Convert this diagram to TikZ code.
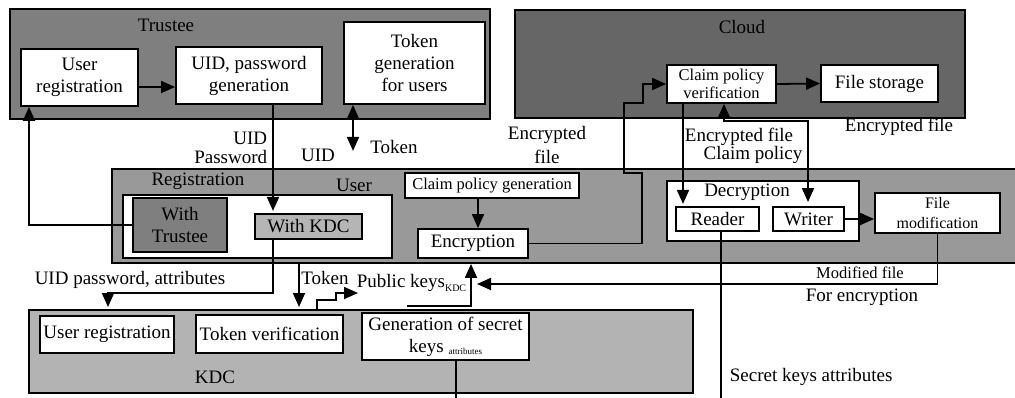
\documentclass[tikz,border=0pt]{standalone}
\usepackage{fontspec}
\setmainfont{Liberation Serif}
\usetikzlibrary{arrows.meta}

\definecolor{trusteegray}{HTML}{7F7F7F}
\definecolor{cloudgray}{HTML}{666666}
\definecolor{usergray}{HTML}{999999}
\definecolor{kdcgray}{HTML}{B3B3B3}
\definecolor{withkdcgray}{HTML}{B5B5B5}

\newcommand\fsmain{\fontsize{19}{22}\selectfont}
\newcommand\fssmall{\fontsize{16.5}{18}\selectfont}

\begin{document}
\begin{tikzpicture}[x=1pt,y=-1pt,line width=1.8pt,
  box/.style={draw, fill=white, inner sep=0pt, align=center, font=\fsmain},
  smallbox/.style={box, font=\fssmall},
  group/.style={draw, inner sep=0pt},
  lbl/.style={inner sep=0pt, font=\fsmain, align=center},
  smalllbl/.style={lbl, font=\fssmall},
  arr/.style={-{Triangle[length=14pt,width=12pt]}},
  dbl/.style={{Triangle[length=14pt,width=12pt]}-{Triangle[length=14pt,width=12pt]}}]

\useasboundingbox (0,0) rectangle (1015,397);

% containers
\node[group, fill=trusteegray, minimum width=480, minimum height=110] (trustee) at (250,64) {};
\node[group, fill=cloudgray, minimum width=450, minimum height=108] (cloud) at (740,64) {};
\node[group, fill=usergray, minimum width=908, minimum height=94] (user) at (566,216) {};
\node[group, fill=kdcgray, minimum width=664, minimum height=83] (kdc) at (361,351.5) {};
\node[group, fill=white, minimum width=269, minimum height=63] (reg) at (257.5,226.5) {};
\node[group, fill=white, minimum width=192, minimum height=60] (dec) at (763,211) {};

% container titles
\node[lbl] (trusteeT) at (166,25) {Trustee};
\node[lbl] (cloudT) at (742,27) {Cloud};
\node[lbl] (regT) at (198,181) {Registration};
\node[lbl] (userT) at (354,185) {User};
\node[lbl] (decT) at (747,192) {Decryption};
\node[lbl] (kdcT) at (215,377) {KDC};

% Trustee
\node[box, minimum width=117, minimum height=57] (tureg) at (79.5,77.5) {User\\registration};
\node[box, minimum width=146, minimum height=57] (tuid) at (249,75.5) {UID, password\\generation};
\node[box, minimum width=141, minimum height=82] (ttok) at (414.5,63) {Token\\generation\\for users};

% Cloud
\node[smallbox, minimum width=109, minimum height=38] (cpv) at (721.5,84) {Claim policy\\verification};
\node[box, minimum width=117, minimum height=37] (fs) at (879.5,83.5) {File storage};

% User
\node[box, fill=trusteegray, minimum width=94, minimum height=54] (wtr) at (180,225) {With\\Trustee};
\node[box, fill=withkdcgray, minimum width=107, minimum height=25] (wkdc) at (308.5,226.5) {With KDC};
\node[smallbox, minimum width=174, minimum height=25] (cpg) at (492,185.5) {Claim policy generation};
\node[box, minimum width=110, minimum height=29] (enc) at (473,243.5) {Encryption};
\node[box, minimum width=83, minimum height=24] (reader) at (717.5,219) {Reader};
\node[box, minimum width=71, minimum height=24] (writer) at (808.5,219) {Writer};
\node[box, font=\fontsize{16}{20}\selectfont, minimum width=125, minimum height=40] (fm) at (937.5,213) {File\\modification};

% KDC
\node[box, minimum width=134, minimum height=37] (kureg) at (107,334.5) {User registration};
\node[box, minimum width=147, minimum height=38] (ktok) at (269.5,334) {Token verification};
\node[box, minimum width=167, minimum height=47] (kgen) at (445.5,336.5)
  {Generation of secret\\keys {\fontsize{9}{9}\selectfont\raisebox{-2pt}{attributes}}};

% edge labels
\node[lbl, anchor=east] (lUID1) at (268,138) {UID};
\node[lbl, anchor=east] (lPwd) at (268,157) {Password};
\node[lbl] (lUID2) at (318,155) {UID};
\node[lbl] (lTok1) at (394,147) {Token};
\node[lbl] (lEnc1) at (547,135) {Encrypted};
\node[lbl] (lEnc2) at (547,157) {file};
\node[lbl] (lEncF) at (739,137) {Encrypted file};
\node[lbl] (lClaim) at (753,155) {Claim policy};
\node[lbl] (lEncR) at (899,127) {Encrypted file};
\node[lbl] (lUPA) at (130,280) {UID password, attributes};
\node[lbl] (lTok2) at (325,278) {Token};
\node[lbl, anchor=west] (lPK) at (356,283) {Public keys\raisebox{-4pt}{\fontsize{10}{10}\selectfont KDC}};
\node[smalllbl] (lMod) at (860,273) {Modified file};
\node[lbl] (lForEnc) at (862,297) {For encryption};
\node[lbl, anchor=west] (lSKA) at (729,377) {Secret keys attributes};

% free ends
\coordinate (pkTip) at (477,284);
\coordinate (encFeed) at (407,306);
\coordinate (readerEnd) at (721,400);
\coordinate (kgenEnd) at (456,400);
\coordinate (stairTip) at (358,293);

% connectors
\draw[arr] ([yshift=-9.5pt]tureg.east) -- ([yshift=-11.5pt]tuid.west);
\draw[arr] (wtr.west) -| ([xshift=-50.5pt]tureg.south);
\draw[arr] ([xshift=24pt]tuid.south) -- ++(0,106);
\draw[dbl] ([xshift=-61.5pt]ttok.south) -- ++(0,46);
\draw[arr] ([xshift=-14pt]cpg.south) -- ([xshift=5pt]enc.north);
\draw[arr] (enc.east) -- (642,243.5) -- (642,173) -- (624,173) -- (624,103)
  -- (643,103) -- (643,84) -- (cpv.west);
\draw[arr] (cpv.east) -- (fs.west);
\draw[arr] ([xshift=-38.5pt]cpv.south) -- ++(0,100);
\draw[dbl] ([xshift=2.5pt]cpv.south) |- (808,121) -- ++(0,81);
\draw[arr] (writer.east) -- (fm.west |- writer.east);
\draw[arr] (fm.south) |- (pkTip);
\draw[arr] (encFeed) -| ([xshift=-2pt]enc.south |- user.south);
\draw[arr] ([xshift=-35.5pt]wkdc.south) |- (108,293) -- (108,307);
\draw[arr] (299,263) -- (299,307);
\draw[arr] (317,310) -- (317,300) -- (336,300) -- (336,293) -- (stairTip);
\draw ([xshift=3.5pt]reader.south) -- (readerEnd);
\draw ([xshift=10.5pt]kgen.south) -- (kgenEnd);

\end{tikzpicture}
\end{document}
